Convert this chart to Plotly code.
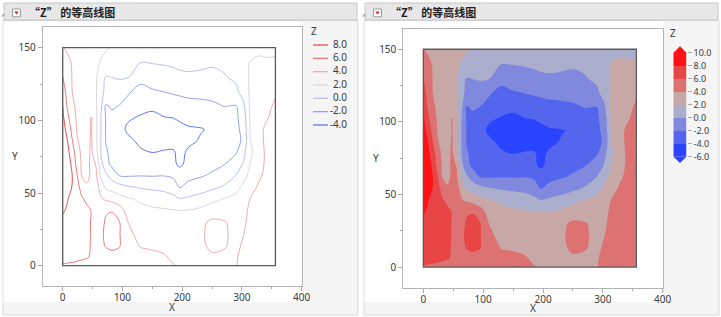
import plotly.graph_objects as go

W, H = 721, 317

# ---------------- data ----------------
x_nodes = [0, 8, 16, 24, 32, 40, 48, 56, 64, 72, 82, 95, 110, 130, 150, 170, 185, 196,
           210, 230, 250, 270, 290, 302, 314, 328, 342, 356]
y_nodes = [0, 6, 14, 22, 30, 38, 46, 54, 62, 70, 78, 86, 94, 102, 110, 120, 130, 140, 150]

z_y000 = [5.85, 5.8, 5.75, 5.7, 5.6, 5.5, 5.4, 5.3, 5.2, 5.1, 5.0, 4.9, 4.75, 4.55, 4.35, 4.2, 4.05, 3.9, 3.6, 3.4, 3.4, 3.5, 3.95, 4.3, 4.6, 4.9, 5.1, 5.2]
z_y006 = [6.5, 6.5, 6.4, 6.3, 6.2, 6.1, 5.9, 5.4, 5.4, 5.5, 5.6, 5.5, 5.0, 4.6, 4.3, 4.1, 3.8, 3.6, 3.5, 3.6, 3.8, 3.8, 3.9, 4.3, 4.7, 5.0, 5.2, 5.3]
z_y014 = [6.9, 6.8, 6.6, 6.5, 6.3, 6.15, 5.95, 5.5, 5.7, 6.1, 6.3, 6.1, 4.9, 3.88, 3.8, 3.72, 3.35, 3.2, 3.3, 3.7, 4.3, 4.1, 3.7, 4.15, 4.6, 4.9, 5.1, 5.2]
z_y022 = [7.3, 7.1, 6.9, 6.6, 6.4, 6.2, 5.95, 5.5, 5.8, 6.2, 6.5, 6.1, 4.4, 3.4, 3.3, 3.23, 2.94, 2.8, 2.9, 3.7, 4.5, 4.2, 3.6, 3.95, 4.4, 4.8, 5.0, 5.1]
z_y030 = [7.6, 7.3, 7.0, 6.7, 6.45, 6.2, 5.95, 5.4, 5.7, 6.1, 6.3, 6.05, 3.95, 2.9, 2.8, 2.75, 2.5, 2.4, 2.5, 3.6, 4.3, 4.1, 3.6, 3.8, 4.3, 4.7, 4.9, 5.0]
z_y038 = [8.2, 7.76, 7.4, 7.05, 6.7, 6.35, 5.95, 5.2, 5.5, 5.9, 5.95, 5.0, 3.05, 2.4, 2.3, 2.2, 2.1, 2.02, 2.05, 2.4, 3.15, 3.3, 3.2, 3.7, 4.2, 4.6, 4.8, 4.9]
z_y046 = [9.0, 8.1, 7.46, 6.8, 6.17, 5.7, 5.85, 5.0, 4.15, 3.7, 3.35, 2.75, 2.14, 1.78, 1.33, 1.02, 0.56, 0.05, 0.33, 0.72, 1.38, 2.05, 2.6, 3.2, 4.05, 4.5, 4.7, 4.8]
z_y054 = [9.3, 8.8, 7.9, 6.7, 5.3, 4.3, 4.8, 4.6, 3.4, 1.65, 1.2, 0.75, 0.2, -0.18, -0.4, -0.62, -1.06, -2.05, -1.47, -0.9, -0.4, 0.24, 1.33, 2.4, 3.4, 4.2, 4.5, 4.7]
z_y062 = [9.5, 9.0, 8.0, 6.1, 3.9, 3.5, 4.3, 4.2, 1.63, 0.45, -0.82, -2.05, -2.15, -2.05, -2.1, -2.05, -2.3, -2.9, -2.5, -2.2, -1.74, -1.0, 0.05, 1.3, 2.55, 3.75, 4.4, 4.7]
z_y070 = [9.5, 8.9, 7.6, 5.29, 3.7, 3.4, 4.4, 3.9, 0.6, -1.3, -2.4, -2.9, -3.2, -3.4, -3.6, -3.5, -3.6, -4.4, -3.4, -2.9, -2.5, -2.1, -0.85, 0.1, 2.1, 3.3, 4.4, 4.7]
z_y078 = [9.3, 8.5, 7.0, 4.84, 3.6, 3.4, 4.3, 2.6, -0.1, -1.8, -2.4, -3.0, -3.5, -3.8, -4.02, -3.85, -3.85, -4.4, -3.8, -3.4, -3.0, -2.6, -2.2, -0.6, 1.6, 3.3, 4.35, 4.6]
z_y086 = [9.0, 8.0, 6.05, 4.15, 3.5, 3.4, 4.2, 2.3, -0.05, -2.05, -2.6, -3.2, -3.7, -4.3, -4.9, -4.6, -4.5, -4.7, -4.3, -3.9, -3.5, -3.0, -2.4, -1.8, 1.95, 3.6, 4.3, 4.6]
z_y094 = [8.7, 7.4, 5.3, 3.85, 3.45, 3.4, 4.1, 2.3, -0.05, -2.05, -2.66, -3.5, -4.3, -4.95, -5.2, -5.2, -4.9, -4.5, -4.2, -4.1, -3.8, -3.2, -2.4, -1.55, 2.2, 3.6, 4.3, 4.6]
z_y102 = [8.4, 6.46, 4.76, 3.75, 3.4, 3.4, 4.1, 2.3, -0.05, -2.05, -2.4, -3.1, -3.8, -4.15, -4.5, -4.05, -3.95, -3.7, -3.44, -3.27, -3.1, -2.7, -2.3, -1.25, 2.4, 3.3, 3.9, 4.4]
z_y110 = [8.05, 5.66, 4.3, 3.69, 3.28, 2.88, 3.2, 2.1, 0.4, -2.2, -1.8, -2.05, -2.6, -3.45, -3.55, -3.12, -3.04, -2.8, -2.6, -2.49, -2.3, -1.95, -2.05, -0.48, 2.4, 3.1, 3.7, 4.2]
z_y120 = [7.05, 5.2, 3.97, 3.59, 3.22, 2.85, 2.47, 2.1, 0.8, -0.6, -0.9, -1.2, -1.8, -2.55, -2.18, -1.95, -1.73, -1.62, -1.48, -1.43, -1.36, -1.05, -0.4, 0.8, 2.3, 2.8, 3.3, 3.8]
z_y130 = [6.05, 5.0, 3.9, 3.55, 3.2, 2.85, 2.5, 2.15, 1.23, -0.1, 0.05, 0.25, 0.1, -1.4, -1.0, -0.73, -0.54, -0.33, -0.25, -0.29, -0.45, -0.14, 0.4, 1.3, 2.2, 2.6, 2.7, 2.8]
z_y140 = [5.0, 4.4, 3.85, 3.53, 3.2, 2.88, 2.57, 2.25, 1.9, 1.5, 0.9, 0.7, 0.5, 0.05, 0.1, 0.2, 0.3, 0.4, 0.45, 0.35, 0.25, 0.4, 0.8, 1.5, 2.05, 2.15, 2.1, 2.1]
z_y150 = [4.1, 3.7, 3.4, 3.2, 3.0, 2.8, 2.6, 2.45, 2.3, 2.15, 1.95, 1.7, 1.5, 1.3, 1.2, 1.2, 1.2, 1.2, 1.2, 1.2, 1.2, 1.2, 1.3, 1.5, 1.7, 1.8, 1.8, 1.85]

z_grid = [z_y000, z_y006, z_y014, z_y022, z_y030, z_y038, z_y046, z_y054, z_y062, z_y070,
          z_y078, z_y086, z_y094, z_y102, z_y110, z_y120, z_y130, z_y140, z_y150]

levels = [-4, -2, 0, 2, 4, 6, 8]
colorbar_ticks = [-6, -4, -2, 0, 2, 4, 6, 8, 10]
band_mids = [-5, -3, -1, 1, 3, 5, 7, 9]
x_ticks = [0, 100, 200, 300, 400]
y_ticks = [0, 50, 100, 150]
title_text = "“Z” 的等高线图"

# ---------------- styles ----------------
line_colors = ['#6375f2', '#97a2f2', '#bcc1ee', '#d8d8d8', '#eeabab', '#ee7b7b', '#e65050']
fill_colors = ['#2b44ff', '#5566ee', '#8089dd', '#aaaecc', '#c8a7a7', '#dc7272', '#e84646', '#ff1212']
line_scale = [[i / (len(line_colors) - 1), c] for i, c in enumerate(line_colors)]
fill_scale = [[i / (len(fill_colors) - 1), c] for i, c in enumerate(fill_colors)]
nb = len(fill_colors)
step_scale = []
for i, c in enumerate(fill_colors):
    step_scale.append([i / nb, c])
    step_scale.append([(i + 1) / nb, c])

FONT = 'Noto Sans'
TXT = '#3a3a3a'


def px(x):
    return x / W


def py(y):
    return 1 - y / H


fig = go.Figure()

# left: contour lines
fig.add_trace(go.Contour(
    x=x_nodes, y=y_nodes, z=z_grid, xaxis='x', yaxis='y',
    autocontour=False,
    contours=dict(start=levels[0], end=levels[-1], size=2, coloring='lines'),
    colorscale=line_scale, line=dict(width=1), showscale=False, hoverinfo='skip'))

# right: filled contours
fig.add_trace(go.Contour(
    x=x_nodes, y=y_nodes, z=z_grid, xaxis='x2', yaxis='y2',
    autocontour=False,
    contours=dict(start=levels[0], end=levels[-1], size=2, coloring='fill', showlines=False),
    colorscale=fill_scale, line=dict(width=0), hoverinfo='skip', showscale=False))

# right legend: colour bar drawn as a one-column heatmap on a helper axis
fig.add_trace(go.Heatmap(
    x=[0], y=band_mids, z=[[v] for v in band_mids], zmin=colorbar_ticks[0], zmax=colorbar_ticks[-1],
    colorscale=step_scale, showscale=False, xaxis='x4', yaxis='y4', hoverinfo='skip', xgap=0, ygap=0))

# left legend drawn on a small helper axis
for lv, col in zip(levels, line_colors):
    fig.add_trace(go.Scatter(x=[0, 15], y=[lv, lv], mode='lines',
                             line=dict(color=col, width=1.3),
                             xaxis='x3', yaxis='y3', showlegend=False, hoverinfo='skip'))
fig.add_trace(go.Scatter(x=[34] * len(levels), y=levels, mode='text',
                         text=['%.1f' % lv for lv in levels], textposition='middle left',
                         textfont=dict(family=FONT, size=10, color=TXT),
                         xaxis='x3', yaxis='y3', showlegend=False, hoverinfo='skip',
                         cliponaxis=False))

axis_common = dict(ticks='outside', ticklen=4, tickwidth=1, tickcolor='#a8a8a8',
                   showline=True, linecolor='#b4b4b4', linewidth=1, mirror=True,
                   showgrid=False, zeroline=False, fixedrange=True, automargin=False,
                   tickfont=dict(family=FONT, size=10, color=TXT))
xr = [-33.5, 400]
yr = [-14.17, 164.24]

layout_axes = dict(
    xaxis=dict(domain=[px(42.7), px(301.7)], range=xr, tickvals=x_ticks, anchor='y',
               ticklabelstandoff=-2,
               minor=dict(ticks='outside', ticklen=2, dtick=50, tick0=0, tickcolor='#a8a8a8', showgrid=False),
               **axis_common),
    yaxis=dict(domain=[py(286.3), py(27)], range=yr, tickvals=y_ticks, anchor='x',
               minor=dict(ticks='outside', ticklen=2, dtick=25, tick0=0, tickcolor='#a8a8a8', showgrid=False),
               **axis_common),
    xaxis2=dict(domain=[px(403.3), px(662.7)], range=xr, tickvals=x_ticks, anchor='y2',
                ticklabelstandoff=-2,
                minor=dict(ticks='outside', ticklen=2, dtick=50, tick0=0, tickcolor='#a8a8a8', showgrid=False),
                **axis_common),
    yaxis2=dict(domain=[py(287.6), py(28.6)], range=yr, tickvals=y_ticks, anchor='x2',
                minor=dict(ticks='outside', ticklen=2, dtick=25, tick0=0, tickcolor='#a8a8a8', showgrid=False),
                **axis_common),
    xaxis3=dict(domain=[px(313), px(348)], range=[0, 35], visible=False, fixedrange=True,
                anchor='y3', automargin=False),
    yaxis3=dict(domain=[py(132), py(38)], range=[-5.05, 9.05], visible=False, fixedrange=True,
                anchor='x3', automargin=False),
    xaxis4=dict(domain=[px(673.3), px(686.7)], range=[-0.5, 0.5], visible=False, fixedrange=True,
                anchor='y4', automargin=False),
    yaxis4=dict(domain=[py(156.7), py(52.7)], range=[colorbar_ticks[0], colorbar_ticks[-1]],
                anchor='x4', side='right', tickvals=colorbar_ticks, automargin=False,
                ticktext=['%.1f' % t for t in colorbar_ticks], ticks='outside', ticklen=4,
                tickcolor='#a8a8a8', showline=False, showgrid=False, zeroline=False, fixedrange=True,
                tickfont=dict(family=FONT, size=9, color=TXT)),
)

shapes = []
annotations = []
for off, white_right, hx in [(0, 302, 27), (361, 663, 388)]:
    # panel background
    shapes.append(dict(type='rect', xref='paper', yref='paper', layer='below',
                       x0=px(3 + off), x1=px(358 + off), y0=py(315), y1=py(20.5),
                       fillcolor='#f5f5f5', line=dict(color='#dadada', width=1)))
    shapes.append(dict(type='rect', xref='paper', yref='paper', layer='below',
                       x0=px(3.5 + off), x1=px(white_right), y0=py(302), y1=py(21.5),
                       fillcolor='#ffffff', line=dict(width=0)))
    # header bar
    shapes.append(dict(type='rect', xref='paper', yref='paper', layer='below',
                       x0=px(4 + off), x1=px(357 + off), y0=py(20), y1=py(3),
                       fillcolor='#e7e7e7', line=dict(color='#c6c6c6', width=1)))
    # disclosure triangle
    shapes.append(dict(type='path', xref='paper', yref='paper', layer='above',
                       path='M %f,%f L %f,%f L %f,%f Z' % (px(0.8 + off), py(16.5), px(4.3 + off), py(16.5),
                                                         px(4.3 + off), py(13)),
                       fillcolor='#a8a8a8', line=dict(width=0)))
    # red menu button
    shapes.append(dict(type='rect', xref='paper', yref='paper', layer='above',
                       x0=px(12.5 + off), x1=px(20.5 + off), y0=py(16.8), y1=py(9),
                       fillcolor='#ffffff', line=dict(color='#9c9c9c', width=1)))
    shapes.append(dict(type='path', xref='paper', yref='paper', layer='above',
                       path='M %f,%f L %f,%f L %f,%f Z' % (px(14.3 + off), py(11.6), px(18.7 + off), py(11.6),
                                                         px(16.5 + off), py(14.6)),
                       fillcolor='#e02020', line=dict(width=0)))
    annotations.append(dict(x=px(hx - 0.5), y=py(12), xref='paper', yref='paper', xanchor='left',
                            yanchor='middle', showarrow=False, text='<b>%s</b>' % title_text,
                            font=dict(family='Noto Sans CJK SC', size=11, color='#1e1e1e')))

# data boundary rectangles (from data extent)
for xa, ya in [('x', 'y'), ('x2', 'y2')]:
    shapes.append(dict(type='rect', xref=xa, yref=ya, layer='above',
                       x0=x_nodes[0], x1=x_nodes[-1], y0=y_nodes[0], y1=y_nodes[-1],
                       line=dict(color='#5a5a5a', width=1.3), fillcolor='rgba(0,0,0,0)'))

# colour bar end arrows
shapes.append(dict(type='path', xref='paper', yref='paper', layer='above',
                   path='M %f,%f L %f,%f L %f,%f Z' % (px(673.3), py(52.9), px(686.7), py(52.9), px(680), py(46.3)),
                   fillcolor=fill_colors[-1], line=dict(width=0)))
shapes.append(dict(type='path', xref='paper', yref='paper', layer='above',
                   path='M %f,%f L %f,%f L %f,%f Z' % (px(673.3), py(156.5), px(686.7), py(156.5), px(680), py(163.1)),
                   fillcolor=fill_colors[0], line=dict(width=0)))

lab_font = dict(family=FONT, size=10, color=TXT)
for (x, y, t) in [(171.7, 307, 'X'), (532.7, 307.8, 'X'), (15, 156, 'Y'), (376, 157.7, 'Y'),
                  (313.5, 31, 'Z'), (672.5, 33, 'Z')]:
    annotations.append(dict(x=px(x), y=py(y), xref='paper', yref='paper', xanchor='center',
                            yanchor='middle', showarrow=False, text=t, font=lab_font))

fig.update_layout(
    width=W, height=H, margin=dict(l=0, r=0, t=0, b=0, pad=0, autoexpand=False),
    paper_bgcolor='#ffffff', plot_bgcolor='#ffffff',
    showlegend=False, shapes=shapes, annotations=annotations,
    **layout_axes)

fig.write_html("out.html", config={'displayModeBar': False})
